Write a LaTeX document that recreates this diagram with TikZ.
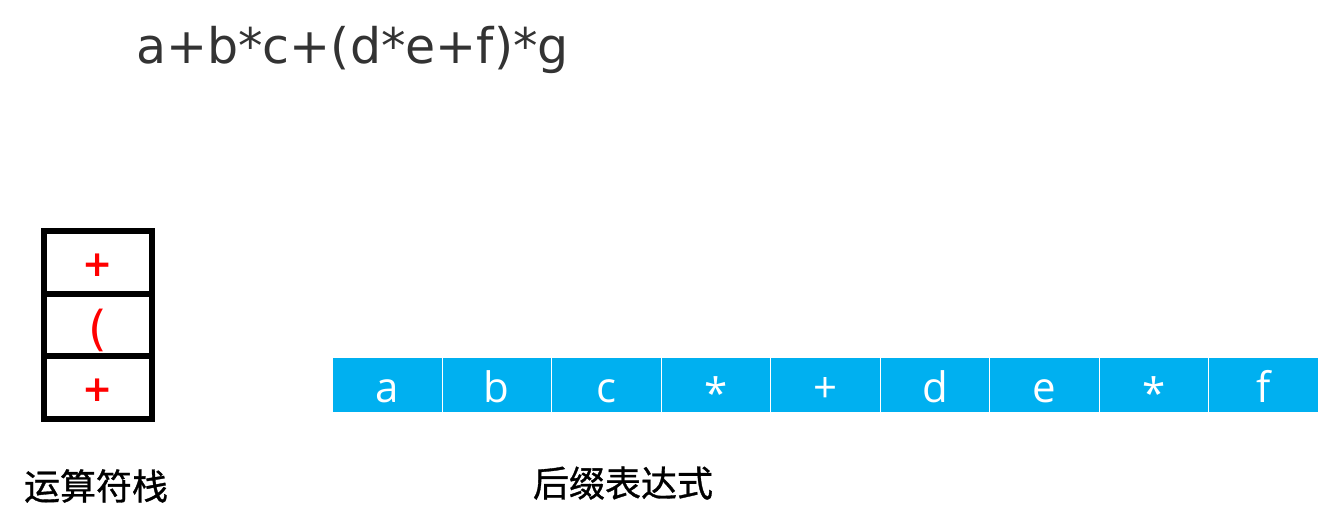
\documentclass[tikz,border=0pt]{standalone}
\usepackage{fontspec}
\setmainfont{DejaVu Sans}
\newfontfamily\cjkfont[FakeBold=0.9]{Noto Sans CJK SC}
\newfontfamily\dvfont{DejaVu Sans}
\newfontfamily\cellfont{Open Sans}
\definecolor{cellblue}{HTML}{00B0F0}
\definecolor{titlegray}{HTML}{333333}
\newcommand{\lowstar}{\raisebox{-6pt}{*}}
\begin{document}
\begin{tikzpicture}[x=1pt,y=-1pt,
  stackline/.style={line width=6.5pt, draw=black},
  stacksym/.style={text=red, font=\dvfont\bfseries\fontsize{36}{36}\selectfont, inner sep=0pt},
  cell/.style={fill=cellblue, draw=white, line width=1pt, minimum width=109.56pt, minimum height=55pt, inner sep=0pt, text height=35pt, text depth=0pt, anchor=north west, text=white, font=\cellfont\fontsize{42}{42}\selectfont},
  label/.style={font=\cjkfont\fontsize{36}{36}\selectfont, text=black, inner sep=0pt}]
\useasboundingbox (0,0) rectangle (1320,530);
% title
\node[anchor=base west, inner sep=0pt, text=titlegray, font=\dvfont\fontsize{49}{49}\selectfont] (title) at (136,63) {a+b*c+(d*e+f)*g};
% stack
\draw[stackline] (44,231) rectangle (152,419);
\coordinate (d1l) at (44,294); \coordinate (d1r) at (152,294);
\coordinate (d2l) at (44,356); \coordinate (d2r) at (152,356);
\draw[stackline] (d1l) -- (d1r);
\draw[stackline] (d2l) -- (d2r);
\node[stacksym] (s1) at (98,265) {+};
\node[stacksym, font=\dvfont\fontsize{48}{48}\selectfont] (s2) at (98,330) {(};
\node[stacksym] (s3) at (98,390) {+};
% postfix cells
\foreach \t [count=\i from 0] in {a,b,c,\lowstar,+,d,e,\lowstar,f} {
  \node[cell] (c\i) at ({332+\i*109.56},357) {\t};
}
% labels
\node[label] (lab1) at (96,486) {运算符栈};
\node[label] (lab2) at (623,483) {后缀表达式};
\end{tikzpicture}
\end{document}
